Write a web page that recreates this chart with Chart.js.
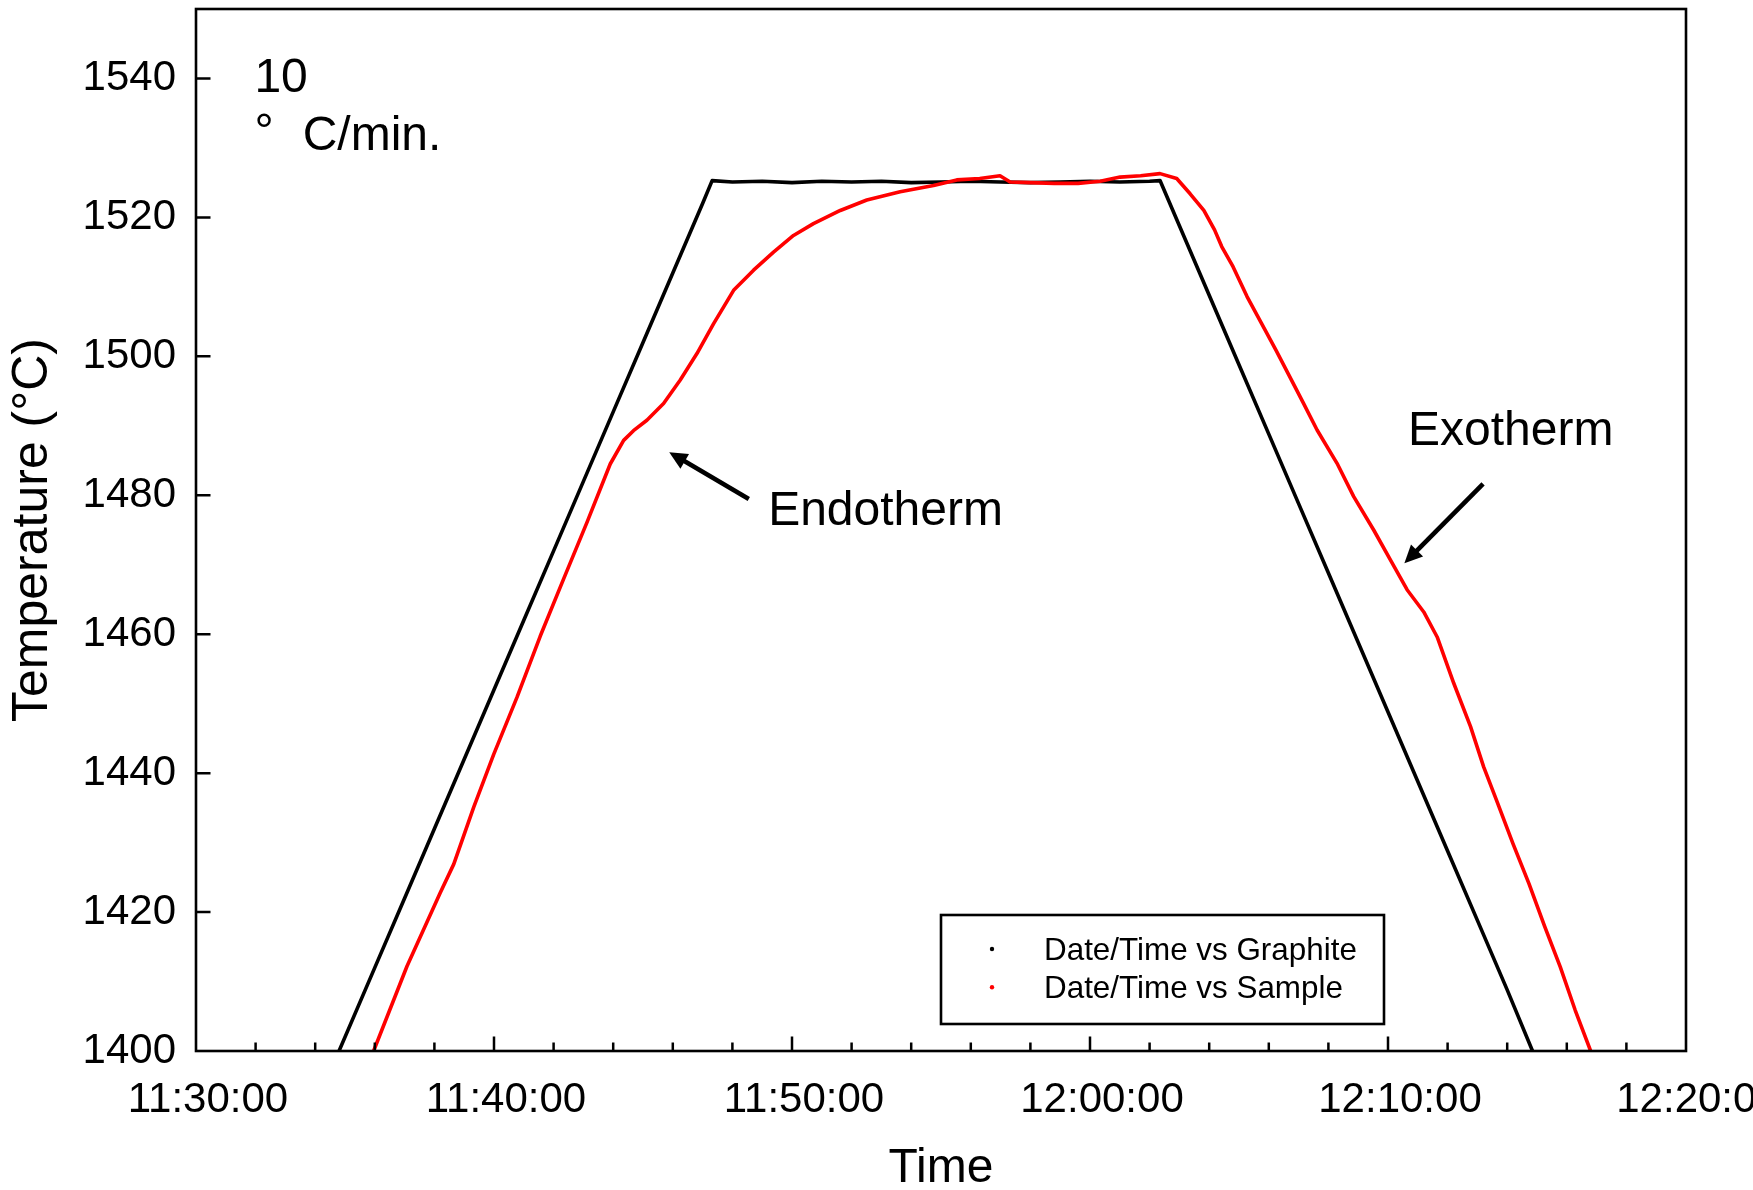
<!DOCTYPE html>
<html>
<head>
<meta charset="utf-8">
<script src="https://cdn.jsdelivr.net/npm/chart.js@4.4.1/dist/chart.umd.min.js"></script>
<style>
  html, body { margin: 0; padding: 0; background: #ffffff; }
  #wrap { width: 1753px; height: 1190px; position: relative; }
</style>
</head>
<body>
<div id="wrap"><canvas id="dsc"></canvas></div>
<script>
// Elapsed time is stored in minutes after 11:30:00.
const startClock = { h: 11, m: 30 };

// Reference crucible (graphite) thermocouple
const graphiteTime = [4.8, 6, 7, 8, 9, 10, 11, 12, 13, 14, 15, 16, 17, 17.32,
  18, 19, 20, 21, 22, 23, 24, 25, 26, 27, 28, 29, 30, 31, 32, 32.35,
  33, 34, 35, 36, 37, 38, 39, 40, 41, 42, 43, 44, 44.85];
const graphiteTemp = [1400, 1412, 1422, 1432, 1442, 1452, 1462, 1472, 1482, 1492, 1502, 1512, 1522, 1525.3,
  1525.1, 1525.2, 1525.0, 1525.2, 1525.1, 1525.2, 1525.0, 1525.1, 1525.2, 1525.1, 1525.0, 1525.1, 1525.2, 1525.1, 1525.2, 1525.3,
  1518.8, 1508.8, 1498.8, 1488.8, 1478.8, 1468.8, 1458.8, 1448.8, 1438.8, 1428.8, 1418.8, 1408.8, 1400];

// Sample thermocouple
const sampleTime = [5.96, 7.08, 8.20, 8.65, 9.32, 9.99, 10.77, 11.55, 12.33, 13.12, 13.90, 14.35, 14.68,
  15.13, 15.69, 16.25, 16.81, 17.37, 18.04, 18.71, 19.38, 20.05, 20.72, 21.62, 22.51, 23.63, 24.75,
  25.53, 26.3, 26.98, 27.32, 28.0, 28.8, 29.6, 30.34, 31.01, 31.7, 32.35, 32.91, 33.36, 33.82, 34.18,
  34.42, 34.80, 35.27, 35.76, 36.24, 36.71, 37.17, 37.62, 38.29, 38.85, 39.52, 40.08, 40.64, 41.20,
  41.65, 42.21, 42.77, 43.21, 43.64, 44.19, 44.73, 45.26, 45.78, 46.28, 46.80];
const sampleTemp = [1400, 1412.2, 1422.8, 1426.9, 1435.1, 1442.7, 1450.9, 1459.7, 1467.9, 1476.1, 1484.5, 1487.9, 1489.3,
  1490.8, 1493.2, 1496.6, 1500.4, 1504.7, 1509.5, 1512.4, 1515.0, 1517.4, 1519.1, 1521.0, 1522.5, 1523.7, 1524.6,
  1525.4, 1525.6, 1526.0, 1525.1, 1525.0, 1524.9, 1524.9, 1525.2, 1525.8, 1526.0, 1526.3, 1525.6, 1523.4, 1521.0, 1518.2,
  1515.8, 1512.9, 1508.6, 1504.7, 1500.9, 1497.0, 1493.2, 1489.4, 1484.6, 1479.8, 1475.0, 1470.7, 1466.4, 1463.2,
  1459.6, 1452.9, 1446.7, 1440.9, 1436.1, 1429.9, 1424.1, 1417.9, 1412.1, 1405.9, 1400];

const seriesNames = ['Date/Time vs Graphite', 'Date/Time vs Sample'];
const seriesColors = ['#000000', '#ff0000'];

const timeRange = [0, 50];          // minutes
const tempRange = [1400, 1550];     // °C
const timeLabelStep = 10;
const timeMinorStep = 2;
const tempStep = 20;
const tempLabelMax = 1540;

const FONT = "'Liberation Sans', Arial, Helvetica, sans-serif";

function pairs(xs, ys) { return xs.map((x, i) => ({ x: x, y: ys[i] })); }

function clockLabel(min) {
  const total = startClock.h * 60 + startClock.m + min;
  const h = Math.floor(total / 60), m = Math.round(total % 60);
  return h + ':' + String(m).padStart(2, '0') + ':00';
}

// Inward tick marks and the closed plot frame
const framePlugin = {
  id: 'frame',
  afterDatasetsDraw(chart) {
    const { ctx, chartArea: a, scales: { x, y } } = chart;
    ctx.save();
    ctx.strokeStyle = '#000';
    ctx.lineWidth = 2.5;
    ctx.lineCap = 'butt';
    ctx.beginPath();
    for (let m = timeRange[0] + timeMinorStep; m < timeRange[1]; m += timeMinorStep) {
      const px = x.getPixelForValue(m);
      const len = (m % timeLabelStep === 0) ? 14.5 : 8.5;
      ctx.moveTo(px, a.bottom);
      ctx.lineTo(px, a.bottom - len);
    }
    for (let t = tempRange[0] + tempStep; t <= tempLabelMax; t += tempStep) {
      const py = y.getPixelForValue(t);
      ctx.moveTo(a.left, py);
      ctx.lineTo(a.left + 14.5, py);
    }
    ctx.stroke();
    ctx.lineWidth = 2.6;
    ctx.strokeRect(a.left, a.top, a.right - a.left, a.bottom - a.top);
    ctx.restore();
  }
};

// Heating-rate note, thermal event labels and arrows
const notes = [
  { text: '10', t: 1.96, T: 1538.1, size: 48 },
  { text: '°', t: 1.96, T: 1530.1, size: 48 },
  { text: 'C/min.', t: 3.58, T: 1529.7, size: 48 },
  { text: 'Endotherm', t: 19.2, T: 1475.7, size: 48 },
  { text: 'Exotherm', t: 40.67, T: 1487.3, size: 48 }
];
const arrows = [
  { from: [18.55, 1479.45], to: [15.88, 1486.2] },
  { from: [43.19, 1481.65], to: [40.55, 1470.2] }
];

const notesPlugin = {
  id: 'notes',
  afterDatasetsDraw(chart) {
    const { ctx, scales: { x, y } } = chart;
    ctx.save();
    ctx.fillStyle = '#000';
    ctx.textBaseline = 'alphabetic';
    ctx.textAlign = 'left';
    notes.forEach(n => {
      ctx.font = n.size + 'px ' + FONT;
      ctx.fillText(n.text, x.getPixelForValue(n.t), y.getPixelForValue(n.T));
    });
    arrows.forEach(ar => {
      const x1 = x.getPixelForValue(ar.from[0]), y1 = y.getPixelForValue(ar.from[1]);
      const x2 = x.getPixelForValue(ar.to[0]), y2 = y.getPixelForValue(ar.to[1]);
      const ang = Math.atan2(y2 - y1, x2 - x1);
      const headLen = 18, headHalf = 8.5;
      const bx = x2 - headLen * Math.cos(ang), by = y2 - headLen * Math.sin(ang);
      ctx.strokeStyle = '#000';
      ctx.lineWidth = 4.6;
      ctx.lineCap = 'butt';
      ctx.beginPath();
      ctx.moveTo(x1, y1);
      ctx.lineTo(bx + 2 * Math.cos(ang), by + 2 * Math.sin(ang));
      ctx.stroke();
      ctx.beginPath();
      ctx.moveTo(x2, y2);
      ctx.lineTo(bx + headHalf * Math.sin(ang), by - headHalf * Math.cos(ang));
      ctx.lineTo(bx - headHalf * Math.sin(ang), by + headHalf * Math.cos(ang));
      ctx.closePath();
      ctx.fill();
    });
    ctx.restore();
  }
};

// Boxed legend inside the plot, lower right
const legendBox = { left: 941, top: 915, right: 1384, bottom: 1024, dotX: 992, textX: 1044, firstRow: 949, rowGap: 38.3, font: 31.4 };
const legendPlugin = {
  id: 'boxLegend',
  afterDraw(chart) {
    const { ctx } = chart;
    const L = legendBox;
    ctx.save();
    ctx.fillStyle = '#fff';
    ctx.fillRect(L.left, L.top, L.right - L.left, L.bottom - L.top);
    ctx.strokeStyle = '#000';
    ctx.lineWidth = 2.6;
    ctx.strokeRect(L.left, L.top, L.right - L.left, L.bottom - L.top);
    ctx.font = L.font + 'px ' + FONT;
    ctx.textAlign = 'left';
    ctx.textBaseline = 'middle';
    chart.data.datasets.forEach((ds, i) => {
      const cy = L.firstRow + i * L.rowGap;
      ctx.fillStyle = ds.borderColor;
      ctx.beginPath();
      ctx.arc(L.dotX, cy, 2.2, 0, Math.PI * 2);
      ctx.fill();
      ctx.fillStyle = '#000';
      ctx.fillText(ds.label, L.textX, cy + 2);
    });
    ctx.restore();
  }
};

function fixX(scale) { scale.height = 139; scale.paddingLeft = 0; scale.paddingRight = 0; }
function fixY(scale) { scale.width = 196; scale.paddingTop = 0; scale.paddingBottom = 0; }

new Chart(document.getElementById('dsc'), {
  type: 'line',
  data: {
    datasets: [
      { label: seriesNames[0], data: pairs(graphiteTime, graphiteTemp), borderColor: seriesColors[0],
        backgroundColor: seriesColors[0], borderWidth: 3.6, pointRadius: 0, tension: 0, order: 1,
        borderJoinStyle: 'round', borderCapStyle: 'round' },
      { label: seriesNames[1], data: pairs(sampleTime, sampleTemp), borderColor: seriesColors[1],
        backgroundColor: seriesColors[1], borderWidth: 3.6, pointRadius: 0, tension: 0, order: 0,
        borderJoinStyle: 'round', borderCapStyle: 'round' }
    ]
  },
  options: {
    responsive: true,
    maintainAspectRatio: false,
    animation: false,
    events: [],
    layout: { padding: { left: 0, right: 67, top: 9, bottom: 0 } },
    plugins: { legend: { display: false }, tooltip: { enabled: false } },
    scales: {
      x: {
        type: 'linear', position: 'bottom', min: timeRange[0], max: timeRange[1],
        grid: { display: false, drawTicks: false },
        border: { display: false },
        afterFit: fixX,
        ticks: {
          stepSize: timeLabelStep, autoSkip: false, maxRotation: 0, padding: 24, labelOffset: 12,
          color: '#000', font: { family: FONT, size: 42 },
          callback: v => (v % timeLabelStep === 0 ? clockLabel(v) : null)
        },
        title: { display: true, text: 'Time', color: '#000', font: { family: FONT, size: 48 },
          padding: { top: 0, bottom: -8 } }
      },
      y: {
        type: 'linear', position: 'left', min: tempRange[0], max: tempRange[1],
        grid: { display: false, drawTicks: false },
        border: { display: false },
        afterFit: fixY,
        ticks: {
          stepSize: tempStep, autoSkip: false, padding: 20, includeBounds: false,
          color: '#000', font: { family: FONT, size: 42 },
          callback: v => (v % tempStep === 0 && v <= tempLabelMax ? String(v) : null)
        },
        title: { display: true, text: 'Temperature (°C)', color: '#000', font: { family: FONT, size: 50 },
          padding: { top: 3.5, bottom: 0 } }
      }
    }
  },
  plugins: [framePlugin, notesPlugin, legendPlugin]
});
</script>
</body>
</html>
